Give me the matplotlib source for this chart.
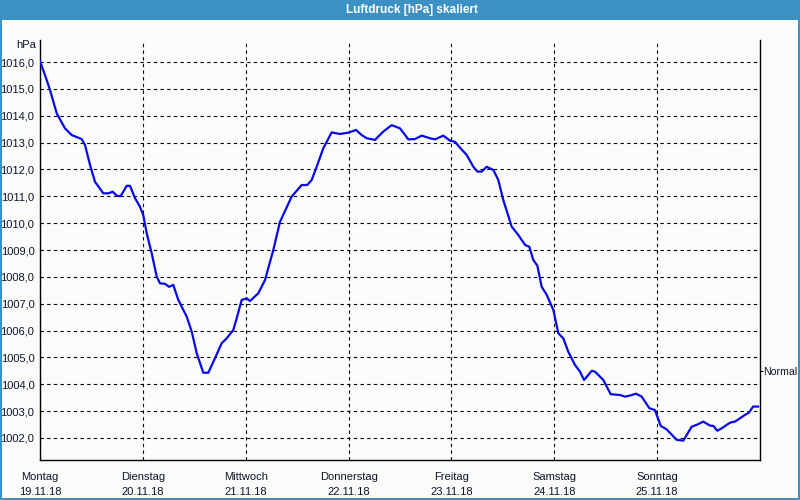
import matplotlib.pyplot as plt
from matplotlib.patches import Rectangle

# hours since Monday 19.11.18 00:00 and pressure in hPa
hours = [0, 1.56, 2.33, 3.9, 5.83, 7.4, 9.73, 10.5, 11.67, 12.83, 14.77, 15.94,
         16.96, 18.04, 18.83, 20.23, 21.0, 22.17, 23.33, 24.1, 24.9, 26.06, 27.23,
         28.0, 29.17, 30.1, 31.1, 32.27, 34.23, 35.4, 36.56, 38.1, 39.27, 40.83,
         42.4, 43.56, 45.1, 45.9, 47.06, 48.23, 49.0, 50.94, 52.5, 54.44, 56.0,
         58.73, 61.06, 62.37, 63.4, 64.56, 66.1, 68.06, 70.0, 71.94, 73.73, 75.06,
         76.23, 78.17, 80.1, 82.06, 84.0, 85.94, 87.5, 89.06, 91.0, 92.17, 94.1,
         95.67, 96.83, 98.0, 99.56, 101.1, 102.04, 103.06, 104.23, 105.77, 106.94,
         108.1, 110.06, 111.6, 113.17, 114.17, 115.1, 116.04, 117.06, 118.23,
         119.77, 120.94, 122.1, 123.27, 124.83, 126.0, 126.94, 128.73, 129.5,
         131.44, 133.16, 135.33, 136.5, 137.67, 139.07, 140.4, 142.17, 143.5,
         144.83, 146.23, 148.56, 150.1, 152.06, 153.23, 154.77, 156.33, 157.1,
         158.04, 159.06, 161.0, 162.17, 164.5, 165.4, 166.4, 167.56]
pressure = [1016.04, 1015.33, 1014.96, 1014.09, 1013.53, 1013.28, 1013.13, 1012.91,
            1012.17, 1011.54, 1011.11, 1011.11, 1011.17, 1011.01, 1011.01, 1011.39,
            1011.39, 1010.93, 1010.61, 1010.30, 1009.62, 1008.88, 1008.01, 1007.76,
            1007.74, 1007.63, 1007.70, 1007.14, 1006.52, 1005.96, 1005.16, 1004.43,
            1004.43, 1004.97, 1005.53, 1005.71, 1006.02, 1006.46, 1007.14, 1007.20,
            1007.10, 1007.39, 1007.88, 1009.00, 1010.05, 1010.99, 1011.42, 1011.42,
            1011.61, 1012.10, 1012.79, 1013.38, 1013.32, 1013.37, 1013.47, 1013.28,
            1013.16, 1013.10, 1013.41, 1013.65, 1013.53, 1013.12, 1013.13, 1013.26,
            1013.16, 1013.12, 1013.26, 1013.07, 1013.03, 1012.81, 1012.54, 1012.10,
            1011.92, 1011.92, 1012.10, 1011.98, 1011.61, 1010.86, 1009.87, 1009.56,
            1009.19, 1009.12, 1008.63, 1008.42, 1007.63, 1007.33, 1006.77, 1005.90,
            1005.71, 1005.21, 1004.72, 1004.47, 1004.16, 1004.50, 1004.47, 1004.16,
            1003.63, 1003.60, 1003.54, 1003.58, 1003.65, 1003.54, 1003.11, 1003.04,
            1002.45, 1002.32, 1001.93, 1001.90, 1002.42, 1002.49, 1002.61, 1002.46,
            1002.45, 1002.27, 1002.36, 1002.57, 1002.61, 1002.86, 1002.94, 1003.17,
            1003.17]

day_names = ['Montag', 'Dienstag', 'Mittwoch', 'Donnerstag', 'Freitag', 'Samstag', 'Sonntag']
day_dates = ['19.11.18', '20.11.18', '21.11.18', '22.11.18', '23.11.18', '24.11.18', '25.11.18']
y_ticks = list(range(1002, 1017))
normal_level = 1004.5
title = 'Luftdruck [hPa] skaliert'

plt.rcParams['font.family'] = ['Liberation Sans', 'DejaVu Sans']
bg = '#f9fcf8'
frame_blue = '#3c91c4'
txt = '#12122e'

fig = plt.figure(figsize=(8, 5), dpi=100, facecolor=bg)

# window title bar and border
fig.patches.append(Rectangle((0, 0.96), 1, 0.04, transform=fig.transFigure,
                             facecolor=frame_blue, edgecolor='none', zorder=0))
fig.patches.append(Rectangle((0, 0), 0.0025, 1, transform=fig.transFigure,
                             facecolor=frame_blue, edgecolor='none', zorder=0))
fig.patches.append(Rectangle((0.9975, 0), 0.0025, 1, transform=fig.transFigure,
                             facecolor=frame_blue, edgecolor='none', zorder=0))
fig.patches.append(Rectangle((0, 0), 1, 0.004, transform=fig.transFigure,
                             facecolor=frame_blue, edgecolor='none', zorder=0))
fig.text(0.515, 0.979, title, ha='center', va='center', color='white',
         fontsize=8.5, fontweight='bold')

ax = fig.add_axes([0.05, 0.08, 0.90, 0.84], facecolor=bg)
ax.plot(hours, pressure, color='#0a0ae6', lw=1.6, zorder=3)

ax.set_xlim(0, 168)
ax.set_ylim(1001.18, 1016.82)

ax.set_xticks([24 * i for i in range(len(day_names))])
ax.set_xticklabels([f'{n}\n{d}' for n, d in zip(day_names, day_dates)],
                   fontsize=8, color=txt, linespacing=1.55)
ax.set_yticks(y_ticks)
ax.set_yticklabels([f'{v},0' for v in y_ticks], fontsize=8, color=txt)
ax.tick_params(axis='both', length=0)
ax.tick_params(axis='x', pad=9)
ax.tick_params(axis='y', pad=4)

ax.grid(True, color='black', linestyle=(0, (3, 3)), linewidth=0.8)
ax.spines['top'].set_visible(False)
for s in ('left', 'bottom', 'right'):
    ax.spines[s].set_linewidth(1.0)
    ax.spines[s].set_color('black')

ax.text(-0.005, 0.988, 'hPa', transform=ax.transAxes, ha='right', va='center',
        fontsize=8, color=txt)

ax2 = ax.twinx()
ax2.set_ylim(ax.get_ylim())
ax2.set_yticks([normal_level])
ax2.set_yticklabels(['Normal'], fontsize=7.6, color=txt)
ax2.tick_params(axis='y', length=2, width=0.8, pad=0.5)
for s in ax2.spines.values():
    s.set_visible(False)

fig.savefig('out.png', dpi=100, facecolor=bg)
